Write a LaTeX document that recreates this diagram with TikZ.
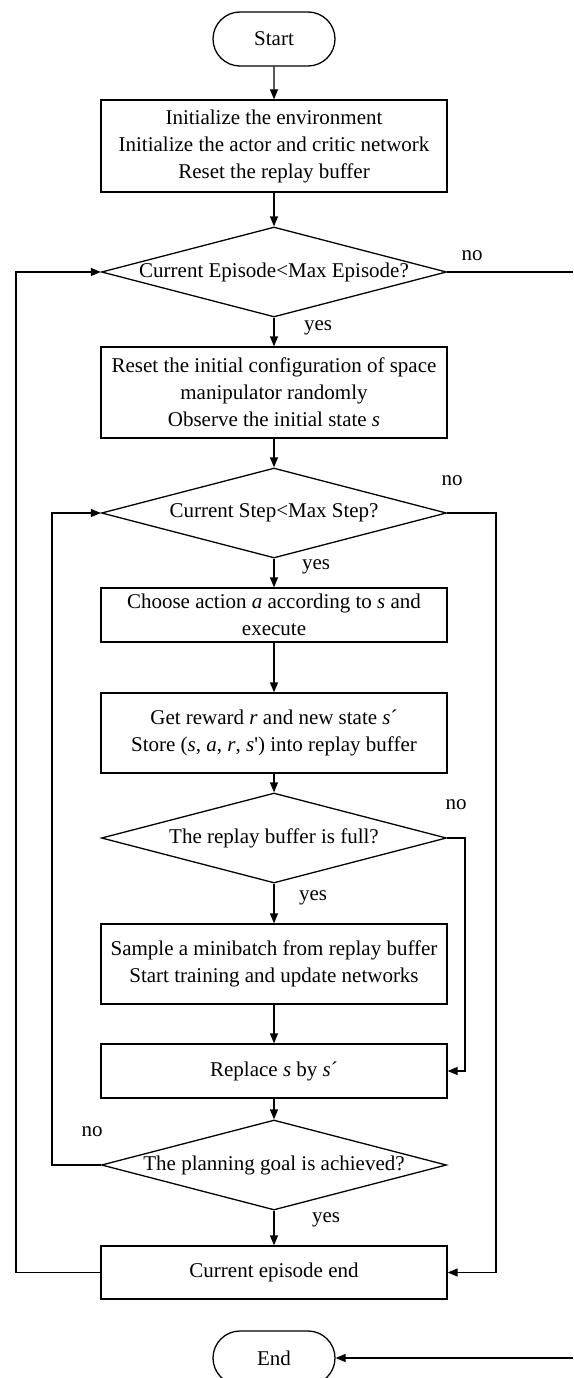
\documentclass[tikz,border=0pt]{standalone}
\usepackage{fontspec}
\setmainfont{Liberation Serif}
\newfontfamily\rawserif{Liberation Serif}[Ligatures=TeXOff]
\usetikzlibrary{shapes.geometric,shapes.misc,arrows.meta}
\begin{document}
\begin{tikzpicture}[x=1pt,y=-1pt,
  line width=1.3pt,
  every node/.style={font=\fontsize{21}{27}\selectfont},
  terminal/.style={draw,rounded rectangle,minimum width=122pt,minimum height=54pt,inner sep=0pt},
  proc/.style={draw,rectangle,minimum width=346pt,align=center,inner sep=0pt},
  decide/.style={draw,diamond,minimum width=345pt,minimum height=90pt,inner sep=0pt,aspect=3.8},
  flow/.style={-{Triangle[length=10pt,width=8pt]}},
  lbl/.style={inner sep=0pt}]
\useasboundingbox (0,0) rectangle (573,1378);

% process chain
\node[terminal] (start) at (274,39) {Start};
\node[proc,minimum height=92pt] (init) at (274,146)
  {Initialize the environment\\Initialize the actor and critic network\\Reset the replay buffer};
\node[decide] (d1) at (274,272) {Current Episode<Max Episode?};
\node[proc,minimum height=91pt] (reset) at (274,392.5)
  {Reset the initial configuration of space\\manipulator randomly\\Observe the initial state \textit{s}};
\node[decide] (d2) at (274,513) {Current Step<Max Step?};
\node[proc,minimum height=54pt] (choose) at (274,615)
  {Choose action \textit{a} according to \textit{s} and\\execute};
\node[proc,minimum height=80pt] (get) at (274,733)
  {Get reward \textit{r} and new state \textit{s}´\\Store (\textit{s}, \textit{a}, \textit{r}, \textit{s}{\rawserif'}) into replay buffer};
\node[decide] (d3) at (274,838) {The replay buffer is full?};
\node[proc,minimum height=80pt] (sample) at (274,964)
  {Sample a minibatch from replay buffer\\Start training and update networks};
\node[proc,minimum height=54pt] (replace) at (274,1071) {Replace \textit{s} by \textit{s}´};
\node[decide] (d4) at (274,1165) {The planning goal is achieved?};
\node[proc,minimum height=53pt] (epend) at (274,1272.5) {Current episode end};
\node[terminal] (stop) at (274,1358) {End};

% loose ends at the right margin
\coordinate (outA) at (573,272);
\coordinate (outB) at (573,1358);

% straight links
\draw[flow] (start) -- (init);
\draw[flow] (init) -- (d1);
\draw[flow] (d1) -- (reset);
\draw[flow] (reset) -- (d2);
\draw[flow] (d2) -- (choose);
\draw[flow] (choose) -- (get);
\draw[flow] (get) -- (d3);
\draw[flow] (d3) -- (sample);
\draw[flow] (sample) -- (replace);
\draw[flow] (replace) -- (d4);
\draw[flow] (d4) -- (epend);

% loops and branches
\draw[flow] (epend.west) -| (16,272) -- (d1.west);
\draw (d1.east) -- (outA);
\draw[flow] (d2.east) -| (496,1272.5) -- (epend.east);
\draw[flow] (d3.east) -| (465,1071) -- (replace.east);
\draw[flow] (d4.west) -| (52,513) -- (d2.west);
\draw[flow] (outB) -- (stop.east);

% branch labels
\node[lbl] (n1) at (472,256) {no};
\node[lbl] (y1) at (318,328) {yes};
\node[lbl] (n2) at (452,481) {no};
\node[lbl] (y2) at (316,567) {yes};
\node[lbl] (n3) at (456,805) {no};
\node[lbl] (y3) at (313,898) {yes};
\node[lbl] (n4) at (92,1132) {no};
\node[lbl] (y4) at (326,1220) {yes};
\end{tikzpicture}
\end{document}
